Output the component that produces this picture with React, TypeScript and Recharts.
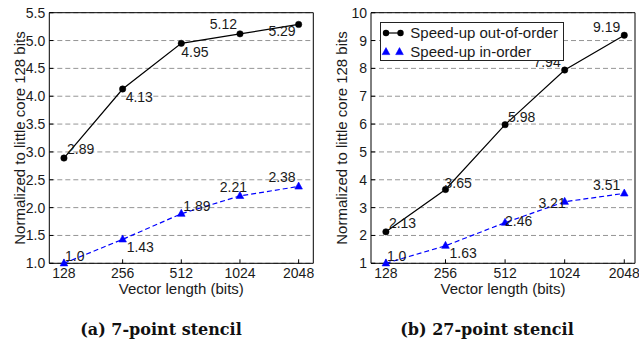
import { LineChart, Line, XAxis, YAxis, CartesianGrid, LabelList, Legend, Label } from "recharts"

const FONT = '"Liberation Sans", Arial, Helvetica, sans-serif'
const TEXT = "#1a1a1a"
const BLUE = "#0000ff"

// x categories
const vectorLengths = ["128", "256", "512", "1024", "2048"]

// (a) 7-point stencil
const outOfOrder7 = [2.89, 4.13, 4.95, 5.12, 5.29]
const inOrder7 = [1.0, 1.43, 1.89, 2.21, 2.38]
const yTicks7 = [1.0, 1.5, 2.0, 2.5, 3.0, 3.5, 4.0, 4.5, 5.0, 5.5]

// (b) 27-point stencil
const outOfOrder27 = [2.13, 3.65, 5.98, 7.94, 9.19]
const inOrder27 = [1.0, 1.63, 2.46, 3.21, 3.51]
const yTicks27 = [1, 2, 3, 4, 5, 6, 7, 8, 9, 10]

const seriesNames = ["Speed-up out-of-order", "Speed-up in-order"]

// where each value label sits relative to its point: dx, dy (baseline), anchor
type LabelPos = [number, number, "start" | "middle" | "end"]
const oooPos7: LabelPos[] = [[3, -4, "start"], [3, 13, "start"], [0, 14, "start"], [-3, -5, "end"], [-3, 12, "end"]]
const inPos7: LabelPos[] = [[1, -2, "start"], [4, 13, "start"], [2, -3, "start"], [7, -4, "end"], [-3, -4, "end"]]
const oooPos27: LabelPos[] = [[3, -4, "start"], [-1, -2, "start"], [3, -3, "start"], [-4, -3, "end"], [-4, -3, "end"]]
const inPos27: LabelPos[] = [[1, -2, "start"], [4, 12, "start"], [0, 3, "start"], [1, 6, "end"], [-4, -3, "end"]]

const fmtValue = (v: number) => (Number.isInteger(v) ? v.toFixed(1) : String(v))

const pointLabel = (pos: LabelPos[]) => (props: any) => {
  const { x, y, value, index } = props
  const [dx, dy, anchor] = pos[index]
  return (
    <text x={x + dx} y={y + dy} textAnchor={anchor} fontSize={14} fontFamily={FONT} fill={TEXT}>
      {fmtValue(value)}
    </text>
  )
}

function TriangleDot(props: any) {
  const { cx, cy } = props
  if (cx == null || cy == null) return null
  return (
    <polygon
      points={`${cx},${cy - 4.4} ${cx - 3.8},${cy + 2.6} ${cx + 3.8},${cy + 2.6}`}
      fill={BLUE}
      stroke={BLUE}
      strokeWidth={0.6}
    />
  )
}

function SpeedupLegend(props: any) {
  // keep the plotting order, not alphabetical
  const payload = [...(props.payload ?? [])].sort(
    (a: any, b: any) => seriesNames.indexOf(a.value) - seriesNames.indexOf(b.value)
  )
  return (
    <div
      style={{
        width: 184,
        height: 39,
        boxSizing: "border-box",
        border: "1px solid #222",
        background: "#fff",
        fontFamily: FONT,
        fontSize: 15,
        color: TEXT,
      }}
    >
      {payload.map((item: any) => (
        <div key={item.value} style={{ display: "flex", alignItems: "center", height: 18.8, whiteSpace: "nowrap" }}>
          <svg width={29} height={12} style={{ flex: "none" }}>
            {item.dataKey === "ooo" ? (
              <>
                <line x1={5} y1={6} x2={19.5} y2={6} stroke="#000" strokeWidth={1.2} />
                <circle cx={5} cy={6} r={3.2} fill="#000" />
                <circle cx={19.5} cy={6} r={3.2} fill="#000" />
              </>
            ) : (
              <>
                <TriangleDot cx={5} cy={7} />
                <TriangleDot cx={18.5} cy={7} />
              </>
            )}
          </svg>
          <span>{item.value}</span>
        </div>
      ))}
    </div>
  )
}

interface StencilChartProps {
  left: number
  width: number
  marginLeft: number
  marginRight: number
  xDomain: [number, number]
  outOfOrder: number[]
  inOrder: number[]
  yTicks: number[]
  yFmt: (v: number) => string
  oooPos: LabelPos[]
  inPos: LabelPos[]
  yLabelX: number
  caption: string
  captionX: number
  legend?: boolean
}

function StencilChart(p: StencilChartProps) {
  const data = vectorLengths.map((c, i) => ({ x: i, cat: c, ooo: p.outOfOrder[i], ino: p.inOrder[i] }))
  const yDomain: [number, number] = [p.yTicks[0], p.yTicks[p.yTicks.length - 1]]
  const tickStyle = { fontSize: 14, fontFamily: FONT, fill: TEXT }
  return (
    <div style={{ position: "absolute", left: p.left, top: 0, width: p.width, height: 345 }}>
      <LineChart
        width={p.width}
        height={300}
        data={data}
        margin={{ top: 11.7, right: p.marginRight, bottom: 1.7, left: p.marginLeft }}
      >
        <CartesianGrid
          xAxisId="b"
          yAxisId="l"
          vertical={false}
          stroke="#7a7a7a"
          strokeWidth={0.8}
          strokeDasharray="5 3"
        />
        <XAxis
          xAxisId="b"
          dataKey="x"
          type="number"
          domain={p.xDomain}
          ticks={[0, 1, 2, 3, 4]}
          tickFormatter={(v: number) => vectorLengths[v]}
          height={35}
          tickSize={-4}
          tickMargin={9}
          stroke="#000"
          fontSize={14}
          tick={tickStyle}
          label={{ value: "Vector length (bits)", position: "insideBottom", offset: 4, fontSize: 15, fontFamily: FONT, fill: TEXT }}
        />
        <XAxis
          xAxisId="t"
          orientation="top"
          dataKey="x"
          type="number"
          domain={p.xDomain}
          ticks={[0, 1, 2, 3, 4]}
          height={1}
          tickSize={-4}
          tick={false}
          stroke="#000"
        />
        <YAxis
          yAxisId="l"
          type="number"
          domain={yDomain}
          ticks={p.yTicks}
          tickFormatter={p.yFmt}
          width={40}
          tickSize={-4}
          tickMargin={8}
          stroke="#000"
          fontSize={14}
          tick={tickStyle}
        >
          <Label
            content={(lp: any) => {
              const vb = lp.viewBox
              const cy = vb.y + vb.height / 2
              return (
                <text
                  x={p.yLabelX}
                  y={cy}
                  transform={`rotate(-90 ${p.yLabelX} ${cy})`}
                  textAnchor="middle"
                  dominantBaseline="central"
                  fontSize={15}
                  fontFamily={FONT}
                  fill={TEXT}
                >
                  Normalized to little core 128 bits
                </text>
              )
            }}
          />
        </YAxis>
        <YAxis
          yAxisId="r"
          orientation="right"
          type="number"
          domain={yDomain}
          ticks={p.yTicks}
          width={1}
          tickSize={-4}
          tick={false}
          stroke="#000"
        />
        <Line
          xAxisId="b"
          yAxisId="l"
          dataKey="ooo"
          name={seriesNames[0]}
          stroke="#000"
          strokeWidth={1.2}
          dot={{ r: 3.2, fill: "#000", stroke: "#000", strokeWidth: 0.5 }}
          isAnimationActive={false}
        >
          <LabelList dataKey="ooo" content={pointLabel(p.oooPos)} />
        </Line>
        <Line
          xAxisId="b"
          yAxisId="l"
          dataKey="ino"
          name={seriesNames[1]}
          stroke={BLUE}
          strokeWidth={1.2}
          strokeDasharray="5 3"
          dot={(dp: any) => <TriangleDot key={dp.index} {...dp} />}
          isAnimationActive={false}
        >
          <LabelList dataKey="ino" content={pointLabel(p.inPos)} />
        </Line>
        {p.legend && (
          <Legend
            layout="horizontal"
            align="center"
            verticalAlign="middle"
            content={SpeedupLegend}
            wrapperStyle={{ left: 60.3, top: 22.3, width: 184, height: 39 }}
          />
        )}
      </LineChart>
      <div
        style={{
          position: "absolute",
          left: p.captionX - 150,
          width: 300,
          top: 319,
          textAlign: "center",
          fontFamily: '"DejaVu Serif", "Liberation Serif", serif',
          fontWeight: "bold",
          fontSize: 16,
          lineHeight: "22px",
          color: "#111",
        }}
      >
        {p.caption}
      </div>
    </div>
  )
}

export default function App() {
  return (
    <div style={{ position: "absolute", left: 0, top: 0, width: 639, height: 345, background: "#fff", overflow: "hidden" }}>
      <StencilChart
        left={0}
        width={320}
        marginLeft={9.3}
        marginRight={5.7}
        xDomain={[-0.25, 4.25]}
        outOfOrder={outOfOrder7}
        inOrder={inOrder7}
        yTicks={yTicks7}
        yFmt={(v) => v.toFixed(1)}
        oooPos={oooPos7}
        inPos={inPos7}
        yLabelX={19}
        caption="(a) 7-point stencil"
        captionX={161}
      />
      <StencilChart
        left={320}
        width={319}
        marginLeft={11}
        marginRight={3}
        xDomain={[-0.25, 4.18]}
        outOfOrder={outOfOrder27}
        inOrder={inOrder27}
        yTicks={yTicks27}
        yFmt={(v) => String(v)}
        oooPos={oooPos27}
        inPos={inPos27}
        yLabelX={21}
        caption="(b) 27-point stencil"
        captionX={167}
        legend
      />
    </div>
  )
}
